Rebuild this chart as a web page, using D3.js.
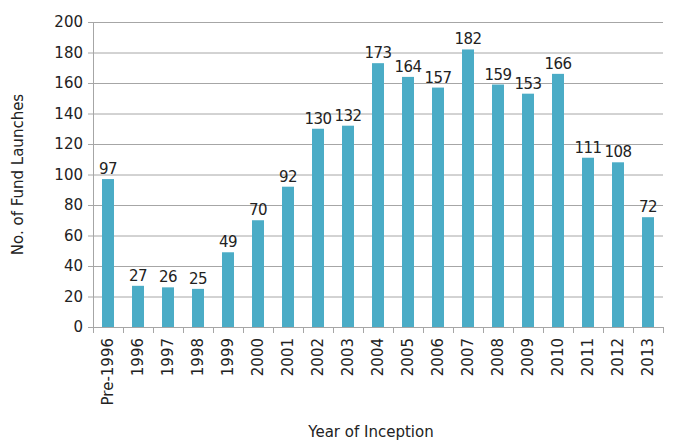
<!DOCTYPE html>
<html>
<head>
<meta charset="utf-8">
<script src="https://cdn.jsdelivr.net/npm/d3@7"></script>
<style>
  body { margin: 0; background: #fff; }
  svg text { font-family: "DejaVu Sans", sans-serif; fill: #222; }
</style>
</head>
<body>
<svg id="chart" width="673" height="443"></svg>
<script>
const years = ["Pre-1996", "1996", "1997", "1998", "1999", "2000", "2001", "2002", "2003", "2004",
  "2005", "2006", "2007", "2008", "2009", "2010", "2011", "2012", "2013"];
const launches = [97, 27, 26, 25, 49, 70, 92, 130, 132, 173, 164, 157, 182, 159, 153, 166, 111, 108, 72];
const yTicks = [0, 20, 40, 60, 80, 100, 120, 140, 160, 180, 200];

const margin = {top: 22, right: 10, bottom: 116, left: 93};
const width = 673, height = 443;
const innerW = 570, innerH = height - margin.top - margin.bottom;

const svg = d3.select("#chart");
const g = svg.append("g").attr("transform", `translate(${margin.left},${margin.top})`);

const x = d3.scaleBand().domain(years).range([0, innerW]).paddingInner(0.6).paddingOuter(0.3);
const y = d3.scaleLinear().domain([0, 200]).range([innerH, 0]);

// gridlines
g.append("g")
  .selectAll("line")
  .data(yTicks)
  .join("line")
  .attr("x1", -5).attr("x2", innerW)
  .attr("y1", d => y(d) + 0.5).attr("y2", d => y(d) + 0.5)
  .attr("stroke", "#a6a6a6");

// y axis
const yAxis = g.append("g")
  .call(d3.axisLeft(y).tickValues(yTicks).tickSize(0).tickPadding(10));
yAxis.select(".domain").remove();
yAxis.selectAll("text").style("font-size", "15px").attr("fill", "#222");
g.append("line").attr("x1", 0.5).attr("x2", 0.5).attr("y1", 0).attr("y2", innerH).attr("stroke", "#a6a6a6");

// bars
g.append("g")
  .selectAll("rect")
  .data(years)
  .join("rect")
  .attr("x", (d) => x(d))
  .attr("width", x.bandwidth())
  .attr("y", (d, i) => y(launches[i]))
  .attr("height", (d, i) => innerH - y(launches[i]))
  .attr("fill", "#4bacc6");

// value labels
g.append("g")
  .selectAll("text")
  .data(years)
  .join("text")
  .attr("x", d => x(d) + x.bandwidth() / 2)
  .attr("y", (d, i) => y(launches[i]) - 5)
  .attr("text-anchor", "middle")
  .style("font-size", "15px")
  .style("letter-spacing", "-0.5px")
  .text((d, i) => launches[i]);

// x axis
const step = innerW / years.length;
const xAxis = g.append("g").attr("transform", `translate(0,${innerH})`);
xAxis.append("line").attr("x1", 0).attr("x2", innerW).attr("y1", 0.5).attr("y2", 0.5).attr("stroke", "#a6a6a6");
xAxis.selectAll("line.tick")
  .data(d3.range(years.length + 1))
  .join("line")
  .attr("class", "tick")
  .attr("x1", i => i * step + 0.5).attr("x2", i => i * step + 0.5)
  .attr("y1", 0).attr("y2", 6)
  .attr("stroke", "#a6a6a6");
xAxis.selectAll("text")
  .data(years)
  .join("text")
  .attr("transform", d => `translate(${x(d) + x.bandwidth() / 2 + 5},11) rotate(-90)`)
  .attr("text-anchor", "end")
  .style("font-size", "15px")
  .text(d => d);

// axis titles
svg.append("text")
  .attr("transform", `translate(23,${margin.top + innerH / 2}) rotate(-90)`)
  .attr("text-anchor", "middle")
  .style("font-size", "15px")
  .text("No. of Fund Launches");

svg.append("text")
  .attr("x", 371).attr("y", 437)
  .attr("text-anchor", "middle")
  .style("font-size", "15px")
  .text("Year of Inception");
</script>
</body>
</html>
